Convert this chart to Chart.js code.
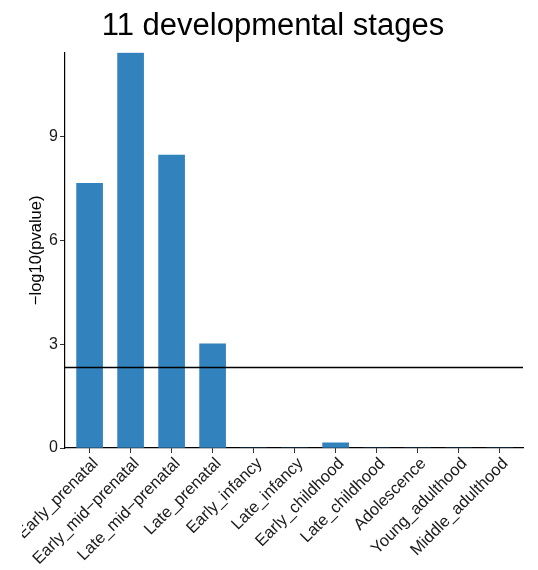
<!DOCTYPE html>
<html>
<head>
<meta charset="utf-8">
<title>11 developmental stages</title>
<script src="https://cdn.jsdelivr.net/npm/chart.js@4/dist/chart.umd.min.js"></script>
<style>
  html, body { margin: 0; padding: 0; background: #ffffff; }
  #wrap { width: 538px; height: 570px; }
</style>
</head>
<body>
<div id="wrap"><canvas id="chart" width="538" height="570"></canvas></div>
<script>
// Developmental stages on the x axis
const stages = [
  "Early_prenatal", "Early_mid\u2212prenatal", "Late_mid\u2212prenatal", "Late_prenatal",
  "Early_infancy", "Late_infancy", "Early_childhood", "Late_childhood",
  "Adolescence", "Young_adulthood", "Middle_adulthood"
];
// Enrichment significance per stage, -log10(p)
const negLogP = [7.65, 11.43, 8.47, 3.01, 0, 0, 0.15, 0, 0, 0, 0];
// Bonferroni cut-off: -log10(0.05 / 11)
const cutoff = 2.342;
const yTickValues = [0, 3, 6, 9];
const chartTitle = "11 developmental stages";

const FONT = "'Liberation Sans', Arial, Helvetica, sans-serif";
const TEXT = "#1a1a1a";

// Horizontal reference line at the cut-off, drawn across the plot panel
const cutoffLine = {
  id: "cutoffLine",
  afterDatasetsDraw(chart) {
    const { ctx, chartArea, scales } = chart;
    const y = Math.round(scales.y.getPixelForValue(cutoff)) + 0.5;
    ctx.save();
    ctx.strokeStyle = "#000000";
    ctx.lineWidth = 1.3;
    ctx.beginPath();
    ctx.moveTo(chartArea.left, y);
    ctx.lineTo(chartArea.right, y);
    ctx.stroke();
    ctx.restore();
  }
};

// Plot title, centred over the figure; the figure's left margin trims
// whatever of the first axis label runs past it
const plotTitle = {
  id: "plotTitle",
  afterDraw(chart) {
    const { ctx, chartArea } = chart;
    ctx.save();
    ctx.fillStyle = "#ffffff";
    ctx.fillRect(0, chartArea.bottom + 4, 22, chart.height - chartArea.bottom - 4);
    ctx.fillStyle = "#000000";
    ctx.font = "31px " + FONT;
    ctx.textAlign = "center";
    ctx.textBaseline = "alphabetic";
    ctx.fillText(chartTitle, 273, 34.5);
    ctx.restore();
  }
};

new Chart(document.getElementById("chart"), {
  type: "bar",
  data: {
    datasets: [{
      data: negLogP.map((v, i) => ({ x: i + 1, y: v })),
      backgroundColor: "#3182BD",
      borderWidth: 0,
      barThickness: 26
    }]
  },
  plugins: [cutoffLine, plotTitle],
  options: {
    responsive: false,
    animation: false,
    layout: { padding: { left: 0, right: 15, top: 52.7, bottom: 0 } },
    plugins: {
      legend: { display: false },
      tooltip: { enabled: false },
      title: { display: false }
    },
    scales: {
      x: {
        type: "linear",
        offset: false,
        min: 0.4,
        max: 11.57,
        afterBuildTicks(scale) {
          scale.ticks = stages.map((_, i) => ({ value: i + 1 }));
        },
        afterFit(scale) {
          scale.height = 122;
          scale.paddingLeft = 0;
          scale.paddingRight = 0;
        },
        ticks: {
          autoSkip: false,
          minRotation: 45,
          maxRotation: 45,
          padding: 1,
          labelOffset: 6,
          color: TEXT,
          font: { family: FONT, size: 16.5 },
          callback: (v) => stages[v - 1]
        },
        grid: {
          display: true,
          offset: false,
          drawOnChartArea: false,
          drawTicks: true,
          tickLength: 5,
          color: "#333333"
        },
        border: { display: true, color: "#000000", width: 1.2 }
      },
      y: {
        type: "linear",
        min: 0,
        max: Math.max(...negLogP),
        afterBuildTicks(scale) {
          scale.ticks = yTickValues.map(v => ({ value: v }));
        },
        afterFit(scale) {
          scale.width = 65;
          scale.paddingTop = 0;
          scale.paddingBottom = 0;
        },
        ticks: {
          padding: 2,
          color: TEXT,
          font: { family: FONT, size: 16 }
        },
        grid: {
          display: true,
          drawOnChartArea: false,
          drawTicks: true,
          tickLength: 5,
          color: "#333333"
        },
        border: { display: true, color: "#000000", width: 1.2 },
        title: {
          display: true,
          text: "\u2212log10(pvalue)",
          color: "#000000",
          font: { family: FONT, size: 16.5 },
          padding: { top: 27, bottom: 0 }
        }
      }
    }
  }
});
</script>
</body>
</html>
